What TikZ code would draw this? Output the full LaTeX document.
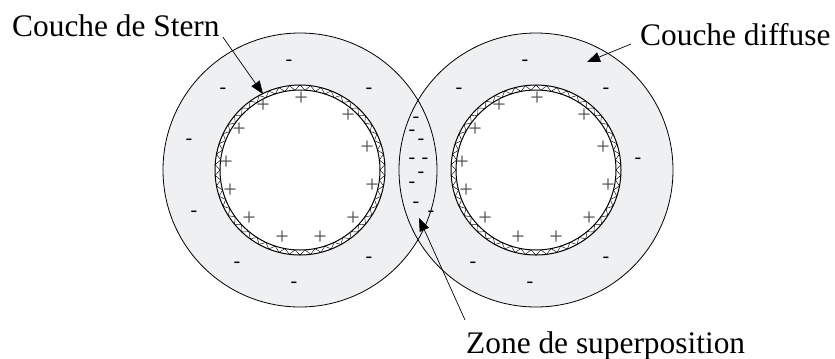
\documentclass[tikz,border=0pt]{standalone}
\usepackage{fontspec}
\newfontfamily\labelfont{Liberation Serif}
\usetikzlibrary{arrows.meta,calc}
\definecolor{diffgray}{RGB}{239,240,242}
\definecolor{plusgray}{RGB}{80,80,80}
\begin{document}
\begin{tikzpicture}[x=1bp,y=-1bp,
  outerline/.style={draw=black,line width=0.8bp},
  sternline/.style={draw=black,line width=1bp},
  zig/.style={draw=black,line width=0.45bp},
  plussign/.style={inner sep=0pt,text=plusgray,font=\labelfont\fontsize{24}{24}\selectfont},
  minussign/.style={inner sep=0pt,yshift=-2bp,text=black,font=\labelfont\fontsize{20}{20}\selectfont},
  lbl/.style={inner sep=0pt,font=\labelfont\fontsize{31.5}{31.5}\selectfont},
  conn/.style={draw=black,line width=0.7bp,-{Triangle[length=13bp,width=10bp]}}]
\useasboundingbox (0,0) rectangle (835,358);
% diffuse layers
\fill[diffgray] (300,170) circle[radius=137];
\fill[diffgray] (536,170) circle[radius=137];
\draw[outerline] (300,170) circle[radius=137];
\draw[outerline] (536,170) circle[radius=137];
% particles with Stern layer
\foreach \cx/\nm in {300/L,536/R}{
  \begin{scope}[shift={(\cx,170)}]
    \fill[white] (0,0) circle[radius=85];
    \draw[zig] (0:80) \foreach \i in {1,...,100}{ -- ({\i*3.6}:{80+5*mod(\i,2)}) };
    \draw[sternline] (0,0) circle[radius=85];
    \draw[sternline] (0,0) circle[radius=80];
    \foreach \x/\y [count=\k] in {301/99,263/106,348/116,239/130,367/148,226/163,372/186,230/191,249/219,353/219,282/238,320/238}{
      \node[plussign] (plus\nm\k) at (\x-300,\y-170) {+};
    }
  \end{scope}
}
% negative charges
\foreach \x/\y [count=\k] in {289/61,223/89,369/89,189/140,194/212,237/263,369/258,294/283}{
  \node[minussign] (minL\k) at (\x,\y) {-};
}
\foreach \x/\y [count=\k] in {525/61,459/89,606/89,638/159,473/263,606/258,530/283}{
  \node[minussign] (minR\k) at (\x,\y) {-};
}
\foreach \x/\y [count=\k] in {416/118,412/131,421/140,412/159,425/159,421/173,412/183,416/203,431/212}{
  \node[minussign] (minZ\k) at (\x,\y) {-};
}
% labels
\node[lbl,anchor=base west] (stern) at (12,36) {Couche de Stern};
\node[lbl,anchor=base west] (diffuse) at (640,45) {Couche diffuse};
\node[lbl,anchor=base west] (zone) at (466,353) {Zone de superposition};
\coordinate (sterntip) at (263,94);
\coordinate (diffusetip) at (587,62);
\coordinate (zonetip) at (419,218);
\draw[conn] ($(stern.base east)+(3,1)$) -- (sterntip);
\draw[conn] ($(diffuse.base west)+(-9,-1)$) -- (diffusetip);
\draw[conn] ($(zone.base west)+(-1,-33)$) -- (zonetip);
\end{tikzpicture}
\end{document}
